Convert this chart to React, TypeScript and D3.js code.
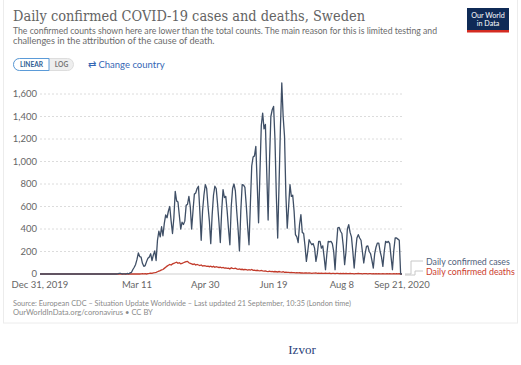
import * as d3 from "d3";

const W = 521;
const H = 365;
const M = { left: 40, right: 119, top: 94, bottom: 91 };

const START = new Date(Date.UTC(2019, 11, 31));

// daily confirmed cases, Dec 31 2019 .. Sep 21 2020
const cases = [
  0, 0, 0, 0, 0, 0, 0, 0, 0, 0,
  0, 0, 0, 0, 0, 0, 0, 0, 0, 0,
  0, 0, 0, 0, 0, 0, 0, 0, 0, 0,
  0, 0, 1, 0, 0, 0, 0, 0, 0, 0,
  0, 0, 0, 0, 0, 0, 0, 0, 0, 0,
  0, 0, 0, 0, 0, 0, 0, 1, 6, 5,
  0, 1, 1, 0, 5, 2, 10, 15, 40, 60,
  85, 130, 187, 155, 150, 95, 68, 75, 110, 140,
  150, 180, 120, 170, 205, 120, 300, 380, 330, 420,
  340, 450, 525, 500, 560, 600, 470, 360, 500, 735,
  650, 640, 520, 400, 460, 440, 470, 610, 620, 690,
  600, 400, 560, 710, 720, 760, 780, 560, 300, 560,
  700, 795, 760, 600, 470, 270, 520, 700, 780, 760,
  620, 460, 280, 560, 750, 680, 690, 560, 400, 260,
  600, 760, 800, 740, 560, 400, 205, 560, 795, 790,
  770, 610, 420, 260, 620, 960, 1040, 1050, 1135, 800,
  455, 900, 1320, 1430, 1290, 1330, 900, 480, 1000, 1400,
  1460, 1490, 1200, 700, 320, 800, 1300, 1698, 1400, 1225,
  700, 408, 600, 795, 690, 700, 560, 350, 330, 280,
  440, 527, 370, 360, 250, 112, 200, 305, 280, 260,
  270, 230, 112, 180, 290, 290, 230, 250, 150, 38,
  180, 290, 285, 290, 270, 200, 38, 250, 410, 414,
  380, 360, 250, 83, 200, 400, 438, 370, 330, 200,
  53, 200, 320, 350, 320, 300, 200, 98, 180, 245,
  250, 200, 180, 120, 53, 180, 240, 275, 275, 200,
  150, 68, 200, 290, 280, 290, 270, 150, 38, 210,
  320, 320, 310, 300, 0, 0,
];

// daily confirmed deaths, same days
const deaths = [
  0, 0, 0, 0, 0, 0, 0, 0, 0, 0,
  0, 0, 0, 0, 0, 0, 0, 0, 0, 0,
  0, 0, 0, 0, 0, 0, 0, 0, 0, 0,
  0, 0, 0, 0, 0, 0, 0, 0, 0, 0,
  0, 0, 0, 0, 0, 0, 0, 0, 0, 0,
  0, 0, 0, 0, 0, 0, 0, 0, 0, 0,
  0, 0, 0, 0, 0, 0, 0, 0, 0, 0,
  0, 1, 0, 0, 1, 2, 1, 3, 0, 3,
  5, 8, 5, 10, 12, 15, 20, 25, 30, 36,
  40, 50, 60, 70, 78, 85, 80, 90, 95, 100,
  105, 95, 100, 90, 95, 100, 105, 110, 112, 100,
  95, 90, 85, 90, 80, 85, 80, 75, 80, 70,
  75, 72, 68, 70, 65, 70, 62, 68, 60, 65,
  62, 58, 60, 55, 58, 52, 55, 50, 52, 45,
  55, 50, 48, 52, 45, 42, 45, 40, 42, 38,
  40, 38, 35, 38, 35, 40, 32, 35, 30, 33,
  30, 28, 32, 28, 25, 28, 24, 22, 25, 22,
  24, 20, 22, 20, 18, 22, 18, 17, 20, 15,
  16, 14, 15, 12, 14, 13, 12, 10, 12, 10,
  11, 9, 10, 8, 10, 9, 7, 9, 8, 6,
  8, 7, 9, 6, 7, 5, 8, 6, 5, 7,
  6, 5, 7, 4, 6, 5, 3, 6, 5, 4,
  5, 3, 6, 4, 5, 3, 4, 5, 3, 4,
  2, 4, 3, 5, 3, 4, 2, 3, 4, 3,
  2, 3, 4, 2, 3, 1, 3, 2, 3, 2,
  1, 3, 2, 2, 3, 1, 2, 1, 2, 3,
  1, 2, 1, 2, 0, 0,
];

const yTicks = [0, 200, 400, 600, 800, 1000, 1200, 1400, 1600];
const xTickDays = [0, 71, 121, 171, 221, 265];
const xTickLabels = ["Dec 31, 2019", "Mar 11", "Apr 30", "Jun 19", "Aug 8", "Sep 21, 2020"];

const seriesNames = ["Daily confirmed cases", "Daily confirmed deaths"];
const seriesColors = ["#3f4f66", "#c23b2b"];
const labelColors = ["#50617c", "#cc3b2d"];

const SANS = "Lato, 'Open Sans', sans-serif";

export default function App() {
  const dates = cases.map((_, i) => d3.utcDay.offset(START, i));
  const x = d3
    .scaleUtc()
    .domain([START, dates[dates.length - 1]])
    .range([M.left, W - M.right]);
  const y = d3.scaleLinear().domain([0, 1600]).range([H - M.bottom, M.top]);

  const line = d3
    .line<number>()
    .x((_, i) => x(dates[i]))
    .y((d) => y(d));

  const fmt = d3.format(",");
  const x0 = M.left;
  const x1 = W - M.right;
  const endX = x(dates[dates.length - 1]);
  const baseY = y(0);

  return (
    <svg
      width={W}
      height={H}
      style={{ position: "absolute", left: 0, top: 0, background: "#fff" }}
    >
      <rect x={3.5} y={-1} width={514} height={324} fill="#fff" stroke="#ececec" />

      {/* header */}
      <text
        x={13}
        y={21}
        fontFamily="'DejaVu Serif', serif"
        fontSize={15}
        fill="#636363"
        textLength={352}
        lengthAdjust="spacingAndGlyphs"
      >
        Daily confirmed COVID-19 cases and deaths, Sweden
      </text>
      <text x={13} y={33.5} fontFamily={SANS} fontSize={9.2} fill="#6b6b6b" textLength={424} lengthAdjust="spacingAndGlyphs">
        The confirmed counts shown here are lower than the total counts. The main reason for this is limited testing and
      </text>
      <text x={13} y={44} fontFamily={SANS} fontSize={9.2} fill="#6b6b6b">
        challenges in the attribution of the cause of death.
      </text>

      {/* logo */}
      <rect x={467} y={8} width={42} height={24} fill="#0f2a56" />
      <rect x={467} y={30} width={42} height={2.5} fill="#d42b21" />
      <text x={488} y={17.5} textAnchor="middle" fontFamily={SANS} fontSize={7.2} fill="#fff">
        Our World
      </text>
      <text x={488} y={26} textAnchor="middle" fontFamily={SANS} fontSize={7.2} fill="#fff">
        in Data
      </text>

      {/* scale toggle */}
      <rect x={13.5} y={58.5} width={60} height={12} rx={6} fill="#eeeeee" stroke="#dddddd" />
      <path d="M19.5,58.5 H49 V70.5 H19.5 A6,6 0 0 1 19.5,58.5 Z" fill="#fff" stroke="#5b9bd8" />
      <text x={31.5} y={67.2} textAnchor="middle" fontFamily={SANS} fontSize={6.6} fontWeight="bold" fill="#2f5d94">
        LINEAR
      </text>
      <text x={61.5} y={67.2} textAnchor="middle" fontFamily={SANS} fontSize={6.6} fontWeight="bold" fill="#777">
        LOG
      </text>
      <text x={88} y={67.5} fontFamily={SANS} fontSize={9.5} fill="#3567b5">
        ⇄ Change country
      </text>

      {/* gridlines and y labels */}
      {yTicks.map((t) => (
        <g key={t}>
          {t > 0 && (
            <line
              x1={x0}
              x2={x1}
              y1={y(t)}
              y2={y(t)}
              stroke="#dcdcdc"
              strokeDasharray="2,2"
            />
          )}
          <text
            x={37}
            y={y(t) + 3.3}
            textAnchor="end"
            fontFamily={SANS}
            fontSize={9.5}
            fill="#666"
          >
            {fmt(t)}
          </text>
        </g>
      ))}
      <line x1={x0} x2={x1} y1={baseY} y2={baseY} stroke="#cfcfcf" />

      {/* x labels */}
      {xTickDays.map((d, i) => (
        <text
          key={d}
          x={x(dates[d])}
          y={288}
          textAnchor="middle"
          fontFamily={SANS}
          fontSize={9.5}
          fill="#666"
        >
          {xTickLabels[i]}
        </text>
      ))}

      {/* series */}
      <path d={line(deaths) ?? ""} fill="none" stroke={seriesColors[1]} strokeWidth={1.3} />
      <path d={line(cases) ?? ""} fill="none" stroke={seriesColors[0]} strokeWidth={1.3} strokeLinejoin="round" />

      {/* legend */}
      <path
        d={`M${endX + 3},${baseY} H${endX + 9} V${261} H${423}`}
        fill="none"
        stroke="#c8c8c8"
      />
      <path
        d={`M${endX + 3},${baseY + 1} H${endX + 13} V${271} H${423}`}
        fill="none"
        stroke="#c8c8c8"
      />
      <text x={426} y={264.5} fontFamily={SANS} fontSize={8.8} fill={labelColors[0]}>
        {seriesNames[0]}
      </text>
      <text x={426} y={274.5} fontFamily={SANS} fontSize={8.8} fill={labelColors[1]}>
        {seriesNames[1]}
      </text>

      {/* footer */}
      <text x={13} y={306} fontFamily={SANS} fontSize={7.6} fill="#8a8a8a" textLength={338} lengthAdjust="spacingAndGlyphs">
        Source: European CDC – Situation Update Worldwide – Last updated 21 September, 10:35 (London time)
      </text>
      <text x={13} y={315} fontFamily={SANS} fontSize={7.6} fill="#8a8a8a">
        OurWorldInData.org/coronavirus • CC BY
      </text>

      <text
        x={302}
        y={354}
        textAnchor="middle"
        fontFamily="'Liberation Serif', serif"
        fontSize={13}
        fill="#2b3f7a"
      >
        Izvor
      </text>
    </svg>
  );
}
